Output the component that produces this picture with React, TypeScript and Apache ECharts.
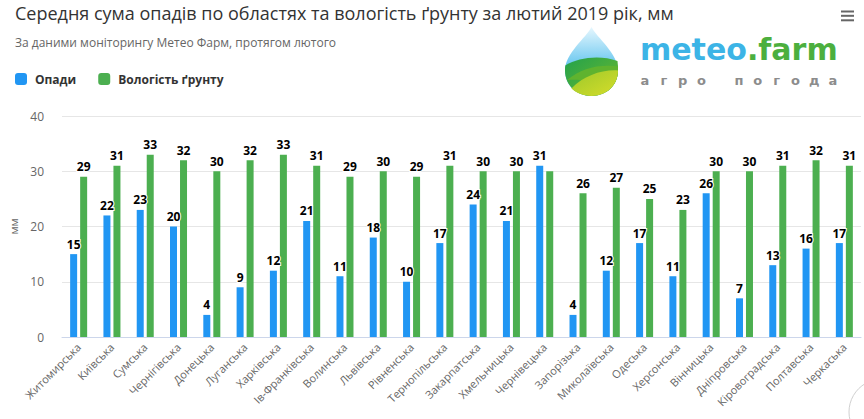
import React, { useEffect, useRef } from "react";
import * as echarts from "echarts";

const categories = [
  "Житомирська", "Київська", "Сумська", "Чернігівська", "Донецька", "Луганська",
  "Харківська", "Ів-Франківська", "Волинська", "Львівська", "Рівненська", "Тернопільська",
  "Закарпатська", "Хмельницька", "Чернівецька", "Запорізька", "Миколаївська", "Одеська",
  "Херсонська", "Вінницька", "Дніпровська", "Кіровоградська", "Полтавська", "Черкаська",
];
const opady = [15, 22, 23, 20, 4, 9, 12, 21, 11, 18, 10, 17, 24, 21, 31, 4, 12, 17, 11, 26, 7, 13, 16, 17];
const vologist = [29, 31, 33, 32, 30, 32, 33, 31, 29, 30, 29, 31, 30, 30, 30, 26, 27, 25, 23, 30, 30, 31, 32, 31];
const seriesNames = ["Опади", "Вологість ґрунту"];
const titleText = "Середня сума опадів по областях та вологість ґрунту за лютий 2019 рік, мм";
const subtitleText = "За даними моніторингу Метео Фарм, протягом лютого";
const yAxisName = "мм";
const logoTagline = "агро погода";

const FONT = "'Open Sans', 'DejaVu Sans', sans-serif";

const dropD = "M50,0 C40,20 0,50 0,82 C0,110 22,130 50,130 C78,130 100,110 100,82 C100,50 60,20 50,0 Z";
const hillDarkD = "M1,72 C25,58 65,52 99,64 C100,70 100,76 100,82 C100,110 78,130 50,130 C22,130 0,110 0,82 C0,78 0,75 1,72 Z";
const hillLightD = "M12,116 C35,92 70,80 100,82 C100,110 78,130 50,130 C34,130 21,124 12,116 Z";
const hillMidD = "M4,100 C30,78 62,70 100,74 L100,82 C100,100 90,114 78,122 C55,100 25,98 4,100 Z";

let registered = false;
function registerShapes() {
  if (registered) return;
  registered = true;
  echarts.graphic.registerShape("dropShape", echarts.graphic.extendPath(dropD, {}));
  echarts.graphic.registerShape("hillDark", echarts.graphic.extendPath(hillDarkD, {}));
  echarts.graphic.registerShape("hillLight", echarts.graphic.extendPath(hillLightD, {}));
  echarts.graphic.registerShape("hillMid", echarts.graphic.extendPath(hillMidD, {}));
}

export default function App() {
  const ref = useRef<HTMLDivElement>(null);

  useEffect(() => {
    if (!ref.current) return;
    registerShapes();
    const chart = echarts.init(ref.current, undefined, { renderer: "svg" });

    const labelStyle = {
      show: true,
      position: "top" as const,
      distance: 4,
      color: "#000",
      fontFamily: FONT,
      fontWeight: "bold" as const,
      fontSize: 12,
      textBorderColor: "#fff",
      textBorderWidth: 2,
    };

    const greenData = vologist.map((v, i) =>
      opady[i] >= v ? { value: v, label: { show: false } } : v
    );

    const dropX = 565, dropY = 27, dropS = 0.53;
    const letters = logoTagline.split("");
    const letterStart = 645, letterStep = 18.8;

    const graphics: any[] = [
      {
        type: "dropShape", x: dropX, y: dropY, scaleX: dropS, scaleY: dropS,
        style: {
          fill: { type: "linear", x: 0, y: 0, x2: 0, y2: 1, colorStops: [
            { offset: 0, color: "#e6f7fe" }, { offset: 0.6, color: "#5fc3ee" }, { offset: 1, color: "#3aa7dc" },
          ] },
        },
      },
      {
        type: "hillDark", x: dropX, y: dropY, scaleX: dropS, scaleY: dropS,
        style: {
          fill: { type: "linear", x: 0, y: 0, x2: 1, y2: 1, colorStops: [
            { offset: 0, color: "#23a24b" }, { offset: 1, color: "#6fb92e" },
          ] },
        },
      },
      {
        type: "hillMid", x: dropX, y: dropY, scaleX: dropS, scaleY: dropS,
        style: { fill: "#5fb32f" },
      },
      {
        type: "hillLight", x: dropX, y: dropY, scaleX: dropS, scaleY: dropS,
        style: {
          fill: { type: "linear", x: 0, y: 0, x2: 1, y2: 1, colorStops: [
            { offset: 0, color: "#9cc82b" }, { offset: 1, color: "#d6dd2a" },
          ] },
        },
      },
      {
        type: "text", x: 640, y: 49,
        style: {
          text: "{a|meteo}{b|.farm}",
          verticalAlign: "middle",
          rich: {
            a: { fontFamily: "'DejaVu Sans', sans-serif", fontWeight: "bold", fontSize: 30, fill: "#3cb4e6", color: "#3cb4e6" },
            b: { fontFamily: "'DejaVu Sans', sans-serif", fontWeight: "bold", fontSize: 30, fill: "#4caf3e", color: "#4caf3e" },
          },
        },
      },
      ...letters.map((ch, i) => ({
        type: "text", x: letterStart + i * letterStep, y: 80,
        style: {
          text: ch, align: "center", verticalAlign: "middle",
          fontFamily: "'DejaVu Sans', sans-serif", fontWeight: "bold", fontSize: 13, fill: "#8c8c8c",
        },
      })),
      { type: "rect", shape: { x: 841, y: 10.5, width: 13, height: 2 }, style: { fill: "#666" } },
      { type: "rect", shape: { x: 841, y: 14.8, width: 13, height: 2 }, style: { fill: "#666" } },
      { type: "rect", shape: { x: 841, y: 19.3, width: 13, height: 2 }, style: { fill: "#666" } },
      { type: "circle", shape: { cx: 882, cy: 412, r: 33 }, style: { fill: "none", stroke: "#d0d0d0", lineWidth: 1 } },
    ];

    chart.setOption({
      animation: false,
      backgroundColor: "#fff",
      title: [
        { text: titleText, left: 15, top: 3, padding: 0, textStyle: { fontFamily: FONT, fontSize: 18, lineHeight: 20, fontWeight: "normal", color: "#333" } },
        { text: subtitleText, left: 15, top: 36, padding: 0, textStyle: { fontFamily: FONT, fontSize: 12, fontWeight: "normal", color: "#666" } },
      ],
      legend: {
        left: 15, top: 73, padding: 0, itemWidth: 12, itemHeight: 12, itemGap: 22, icon: "roundRect",
        textStyle: { fontFamily: FONT, fontSize: 12, fontWeight: "bold", color: "#333", padding: [0, 0, 0, 3] },
        data: seriesNames,
      },
      grid: { left: 62, right: 3, top: 116, bottom: 82, containLabel: false },
      xAxis: {
        type: "category",
        data: categories,
        axisLine: { lineStyle: { color: "#ccd6eb" } },
        axisTick: { show: false },
        axisLabel: { rotate: 45, fontFamily: FONT, fontSize: 11, color: "#666", margin: 8, interval: 0 },
      },
      yAxis: {
        type: "value", min: 0, max: 40, interval: 10,
        name: yAxisName, nameLocation: "middle", nameGap: 42, nameRotate: 90,
        nameTextStyle: { fontFamily: FONT, fontSize: 11, color: "#666" },
        axisLine: { show: false }, axisTick: { show: false },
        axisLabel: { fontFamily: FONT, fontSize: 12, color: "#666", margin: 18 },
        splitLine: { lineStyle: { color: "#e6e6e6" } },
      },
      series: [
        { name: seriesNames[0], type: "bar", data: opady, barWidth: 7, barGap: "43%", itemStyle: { color: "#2196f3" }, label: labelStyle },
        { name: seriesNames[1], type: "bar", data: greenData, barWidth: 7, itemStyle: { color: "#4caf50" }, label: labelStyle },
      ],
      graphic: graphics,
    });

    return () => chart.dispose();
  }, []);

  return <div ref={ref} style={{ width: 864, height: 419, position: "absolute", left: 0, top: 0 }} />;
}
